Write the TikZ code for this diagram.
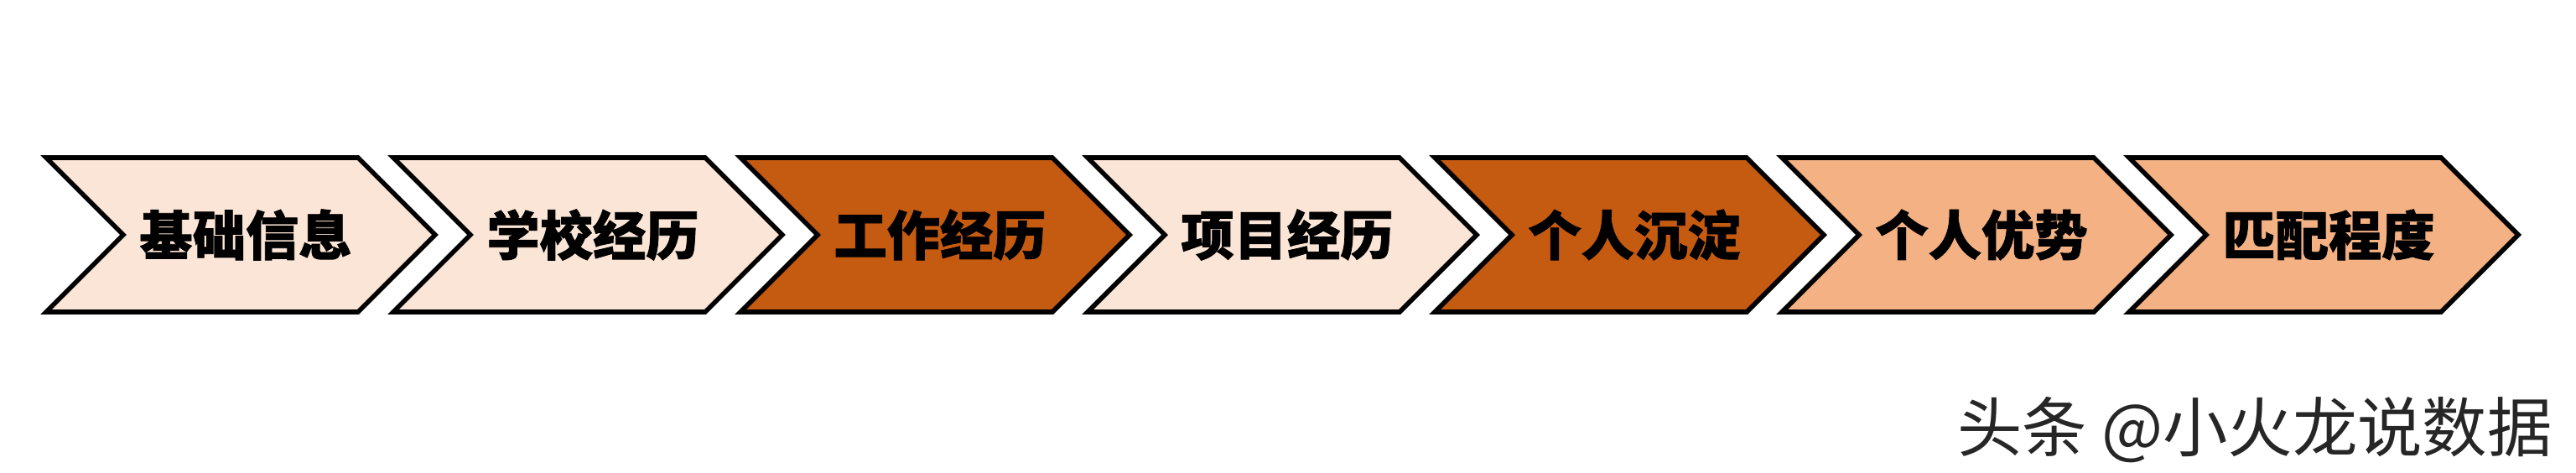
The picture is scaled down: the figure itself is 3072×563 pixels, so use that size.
\documentclass[tikz,border=0pt]{standalone}
\usepackage{fontspec}
\setmainfont{Noto Sans CJK SC}[BoldFeatures={FakeBold=1.2}]
\definecolor{palepeach}{HTML}{FBE5D6}
\definecolor{rustorange}{HTML}{C55A11}
\definecolor{lightpeach}{HTML}{F4B183}
\tikzset{
  chev/.style={draw=black, line width=1.6pt, line join=miter},
  chevtext/.style={font=\fontsize{18}{18}\selectfont\bfseries, text=black},
}

\begin{document}
\begin{tikzpicture}[x=0.01cm, y=-0.01cm]
    \useasboundingbox[fill=white] (0,0) rectangle (3072,563);
    \draw[chev, fill=palepeach] (55,188) -- (427,188) -- (519,280) -- (427,372) -- (55,372) -- (147,280) -- cycle;
    \node[chevtext] (jichu) at (293,280) {基础信息};
    \draw[chev, fill=palepeach] (469,188) -- (841,188) -- (933,280) -- (841,372) -- (469,372) -- (561,280) -- cycle;
    \node[chevtext] (xuexiao) at (707,280) {学校经历};
    \draw[chev, fill=rustorange] (883,188) -- (1255,188) -- (1347,280) -- (1255,372) -- (883,372) -- (975,280) -- cycle;
    \node[chevtext] (gongzuo) at (1121,280) {工作经历};
    \draw[chev, fill=palepeach] (1297,188) -- (1669,188) -- (1761,280) -- (1669,372) -- (1297,372) -- (1389,280) -- cycle;
    \node[chevtext] (xiangmu) at (1535,280) {项目经历};
    \draw[chev, fill=rustorange] (1711,188) -- (2083,188) -- (2175,280) -- (2083,372) -- (1711,372) -- (1803,280) -- cycle;
    \node[chevtext] (chendian) at (1949,280) {个人沉淀};
    \draw[chev, fill=lightpeach] (2125,188) -- (2497,188) -- (2589,280) -- (2497,372) -- (2125,372) -- (2217,280) -- cycle;
    \node[chevtext] (youshi) at (2363,280) {个人优势};
    \draw[chev, fill=lightpeach] (2539,188) -- (2911,188) -- (3003,280) -- (2911,372) -- (2539,372) -- (2631,280) -- cycle;
    \node[chevtext] (pipei) at (2777,280) {匹配程度};
    % watermark
    \node[anchor=east, text=black!85, font=\fontsize{22}{22}\selectfont] (mark) at (3056,513) {头条 @小火龙说数据};
\end{tikzpicture}
\end{document}
